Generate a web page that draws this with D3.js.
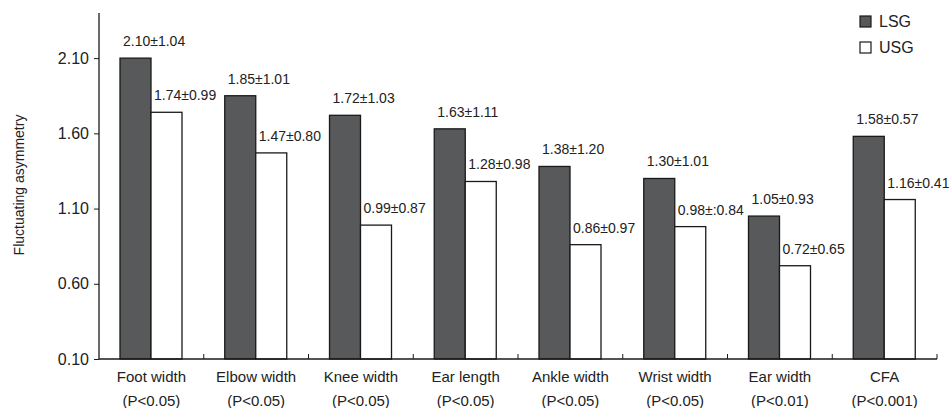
<!DOCTYPE html>
<html>
<head>
<meta charset="utf-8">
<script src="https://cdn.jsdelivr.net/npm/d3@7"></script>
<style>
  body { margin: 0; background: #fff; }
  svg { display: block; font-family: "Liberation Sans", Arial, sans-serif; }
</style>
</head>
<body>
<svg id="chart" width="949" height="408"></svg>
<script>
const categories = ["Foot width", "Elbow width", "Knee width", "Ear length",
  "Ankle width", "Wrist width", "Ear width", "CFA"];
const pValues = ["(P<0.05)", "(P<0.05)", "(P<0.05)", "(P<0.05)",
  "(P<0.05)", "(P<0.05)", "(P<0.01)", "(P<0.001)"];
const groups = ["LSG", "USG"];
const lsgMean = [2.10, 1.85, 1.72, 1.63, 1.38, 1.30, 1.05, 1.58];
const lsgSd = ["1.04", "1.01", "1.03", "1.11", "1.20", "1.01", "0.93", "0.57"];
const usgMean = [1.74, 1.47, 0.99, 1.28, 0.86, 0.98, 0.72, 1.16];
const usgSd = ["0.99", "0.80", "0.87", "0.98", "0.97", ":0.84", "0.65", "0.41"];
const yTicks = [0.10, 0.60, 1.10, 1.60, 2.10];

const fills = { LSG: "#58595b", USG: "#ffffff" };

const svg = d3.select("#chart");
const plot = { left: 99, right: 937, bottom: 359, top: 13 };

const data = categories.map((name, i) => ({
  name,
  p: pValues[i],
  values: [
    { group: "LSG", mean: lsgMean[i], sd: lsgSd[i] },
    { group: "USG", mean: usgMean[i], sd: usgSd[i] },
  ],
}));

const x0 = d3.scaleBand().domain(categories).range([plot.left, plot.right]);
const x1 = d3.scaleBand().domain(groups).range([21, 83]);
const y = d3.scaleLinear().domain([0.10, 2.40]).range([plot.bottom, plot.top]);

// bars
const cat = svg.append("g").selectAll("g")
  .data(data)
  .join("g")
  .attr("transform", (d) => `translate(${x0(d.name)},0)`);

cat.selectAll("rect")
  .data((d) => d.values)
  .join("rect")
  .attr("x", (d) => x1(d.group))
  .attr("y", (d) => y(d.mean))
  .attr("width", x1.bandwidth())
  .attr("height", (d) => plot.bottom - y(d.mean))
  .attr("fill", (d) => fills[d.group])
  .attr("stroke", "#1a1a1a")
  .attr("stroke-width", 1.3);

cat.selectAll("text.val")
  .data((d) => d.values)
  .join("text")
  .attr("class", "val")
  .attr("x", (d) => x1(d.group) + 3)
  .attr("y", (d) => y(d.mean) - 12)
  .attr("font-size", 14)
  .attr("fill", "#222")
  .text((d) => `${d.mean.toFixed(2)}±${d.sd}`);

// y axis
const yAxis = svg.append("g")
  .attr("transform", `translate(${plot.left},0)`)
  .call(d3.axisLeft(y).tickValues(yTicks).tickFormat(d3.format(".2f"))
    .tickSize(5).tickPadding(5));
yAxis.select(".domain").attr("d", `M0,${plot.top}V${plot.bottom}`)
  .attr("stroke", "#1a1a1a").attr("stroke-width", 1.3);
yAxis.selectAll(".tick line").attr("stroke", "#1a1a1a");
yAxis.selectAll(".tick text").attr("font-size", 16).attr("fill", "#222")
  .attr("font-family", "Liberation Sans, Arial, sans-serif");

// x axis: ticks between categories, pointing up
const xAxis = svg.append("g");
xAxis.append("line")
  .attr("x1", plot.left).attr("x2", plot.right)
  .attr("y1", plot.bottom).attr("y2", plot.bottom)
  .attr("stroke", "#1a1a1a").attr("stroke-width", 1.3);
xAxis.selectAll("line.tk")
  .data(categories)
  .join("line")
  .attr("class", "tk")
  .attr("x1", (d) => x0(d) + x0.bandwidth())
  .attr("x2", (d) => x0(d) + x0.bandwidth())
  .attr("y1", plot.bottom).attr("y2", plot.bottom - 5)
  .attr("stroke", "#1a1a1a");

const xl = xAxis.selectAll("g.lab")
  .data(data)
  .join("g")
  .attr("class", "lab")
  .attr("transform", (d) => `translate(${x0(d.name) + x0.bandwidth() / 2},0)`);
xl.append("text").attr("y", 382).attr("text-anchor", "middle")
  .attr("font-size", 15).attr("fill", "#222").text((d) => d.name);
xl.append("text").attr("y", 406).attr("text-anchor", "middle")
  .attr("font-size", 15).attr("fill", "#222").text((d) => d.p);

// y label
svg.append("text")
  .attr("transform", "translate(24,185) rotate(-90)")
  .attr("text-anchor", "middle")
  .attr("font-size", 14)
  .attr("fill", "#222")
  .text("Fluctuating asymmetry");

// legend
const legend = svg.append("g").attr("transform", "translate(860,16)");
const li = legend.selectAll("g")
  .data(groups)
  .join("g")
  .attr("transform", (d, i) => `translate(0,${i * 26})`);
li.append("rect")
  .attr("width", 11).attr("height", 11)
  .attr("fill", (d) => fills[d])
  .attr("stroke", "#1a1a1a").attr("stroke-width", 1.2);
li.append("text")
  .attr("x", 19).attr("y", 11)
  .attr("font-size", 16).attr("fill", "#222")
  .text((d) => d);
</script>
</body>
</html>
